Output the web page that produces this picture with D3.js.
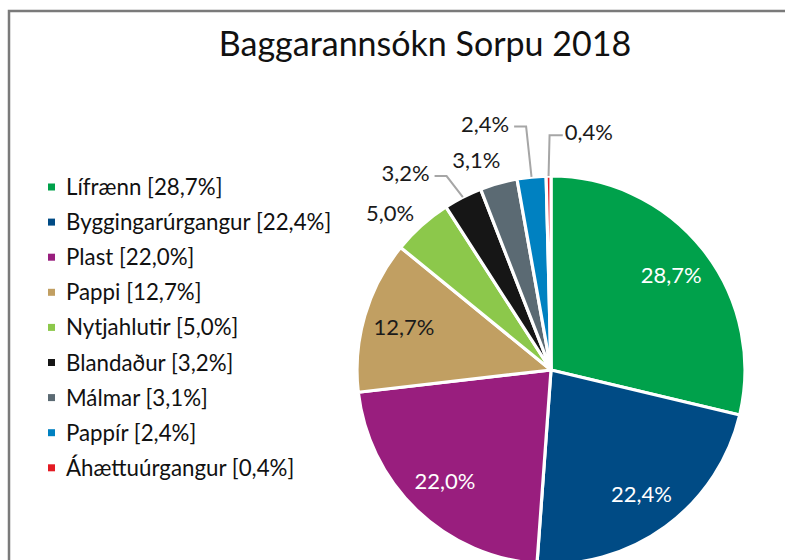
<!DOCTYPE html>
<html>
<head>
<meta charset="utf-8">
<script src="https://cdn.jsdelivr.net/npm/d3@7"></script>
<style>
  html, body { margin: 0; padding: 0; background: #fff; }
  svg { display: block; font-family: Lato, "Open Sans", sans-serif; }
</style>
</head>
<body>
<svg id="chart" width="785" height="560"></svg>
<script>
// ---- data ----
const title = "Baggarannsókn Sorpu 2018";
const categories = ["Lífrænn", "Byggingarúrgangur", "Plast", "Pappi", "Nytjahlutir", "Blandaður", "Málmar", "Pappír", "Áhættuúrgangur"];
const values = [28.7, 22.4, 22.0, 12.7, 5.0, 3.2, 3.1, 2.4, 0.4];
const colors = ["#00A14B", "#004B85", "#991E7E", "#C19F62", "#8CC84B", "#161616", "#5B6A73", "#0081C1", "#E31B23"];
const labelInside = [true, true, true, true, false, false, false, false, false];
const labelFill = ["#ffffff", "#ffffff", "#ffffff", "#1a1a1a", "#1a1a1a", "#1a1a1a", "#1a1a1a", "#1a1a1a", "#1a1a1a"];
// outside label placement (relative to pie centre, in units of radius) and whether a leader line is shown
const outsidePos = [null, null, null, null, [-0.83, -0.81], [-0.75, -1.015], [-0.385, -1.08], [-0.34, -1.27], [0.195, -1.225]];
const leader = [false, false, false, false, false, true, false, true, true];

const fmt = v => d3.format(".1f")(v).replace(".", ",") + "%";

const svg = d3.select("#chart");
const W = 785, H = 560;

// frame
svg.append("path")
  .attr("d", `M9,${H + 5} L9,11 L${W + 5},11`)
  .attr("fill", "none").attr("stroke", "#7a7a7a").attr("stroke-width", 2.5);

// title
svg.append("text")
  .attr("x", 425).attr("y", 56)
  .attr("text-anchor", "middle")
  .attr("font-size", 34)
  .attr("fill", "#111")
  .text(title);

// pie
const cx = 551, cy = 370, R = 194;
const pie = d3.pie().sort(null).value(d => d)(values);
const arc = d3.arc().innerRadius(0).outerRadius(R);
const labelArc = d3.arc().innerRadius(R * 0.58).outerRadius(R * 1.0);

const g = svg.append("g").attr("transform", `translate(${cx},${cy})`);
g.selectAll("path.slice").data(pie).join("path")
  .attr("class", "slice")
  .attr("d", arc)
  .attr("fill", (d, i) => colors[i])
  .attr("stroke", "#ffffff")
  .attr("stroke-width", 3.2)
  .attr("stroke-linejoin", "round");

const fs = 22;
// labels
pie.forEach((d, i) => {
  let x, y;
  if (labelInside[i]) {
    [x, y] = labelArc.centroid(d);
  } else {
    x = outsidePos[i][0] * R; y = outsidePos[i][1] * R;
  }
  const t = g.append("text")
    .attr("x", x).attr("y", y)
    .attr("dy", "0.36em")
    .attr("text-anchor", "middle")
    .attr("font-size", fs)
    .attr("fill", labelFill[i])
    .text(fmt(values[i]));
  if (leader[i]) {
    const w = t.node().getComputedTextLength();
    const a = (d.startAngle + d.endAngle) / 2;
    const px = Math.sin(a) * R, py = -Math.cos(a) * R;
    const ly = y + 3;
    let pts;
    if (x < px) {
      const sx = x + w / 2 + 5;
      pts = [[sx, ly], [sx + 12, ly], [px, py]];
    } else {
      const sx = x - w / 2 - 2;
      pts = [[sx, ly], [px + 1, ly], [px, py]];
    }
    g.append("path")
      .attr("d", d3.line()(pts))
      .attr("fill", "none")
      .attr("stroke", "#a6a6a6")
      .attr("stroke-width", 2);
  }
});

// legend
const legend = svg.append("g");
const ly0 = 187, lstep = 35.1;
categories.forEach((c, i) => {
  const y = ly0 + i * lstep;
  legend.append("rect")
    .attr("x", 48).attr("y", y - 3.5).attr("width", 7).attr("height", 7)
    .attr("fill", colors[i]);
  legend.append("text")
    .attr("x", 66).attr("y", y).attr("dy", "0.36em")
    .attr("font-size", 22.3)
    .attr("fill", "#111")
    .text(`${c} [${fmt(values[i])}]`);
});
</script>
</body>
</html>
